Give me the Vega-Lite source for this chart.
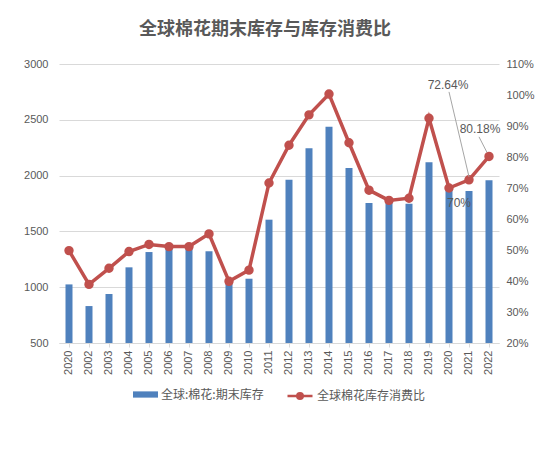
{
  "$schema": "https://vega.github.io/schema/vega-lite/v6.json",
  "width": 440,
  "height": 279,
  "autosize": {"type": "none"},
  "padding": {"left": 59, "top": 64, "right": 55, "bottom": 116},
  "background": "white",
  "config": {
    "view": {"stroke": null},
    "font": "Noto Sans CJK SC",
    "axis": {"labelColor": "#595959", "labelFont": "Liberation Sans", "labelFontSize": 11, "title": null},
    "legend": {"orient": "bottom", "direction": "horizontal", "labelColor": "#595959", "labelFont": "Noto Sans CJK SC", "labelFontSize": 12, "offset": 7, "columnPadding": 20, "layout": {"bottom": {"anchor": "middle", "direction": "horizontal", "margin": 22}}}
  },
  "title": {"text": "全球棉花期末库存与库存消费比", "fontSize": 18, "color": "#595959", "font": "Noto Sans CJK SC", "fontWeight": "bold", "offset": 19, "dx": -14},
  "data": {
    "values": [
      {"year": "2020a", "stock": 1025, "ratio": 0.498},
      {"year": "2002", "stock": 831, "ratio": 0.389},
      {"year": "2003", "stock": 939, "ratio": 0.441},
      {"year": "2004", "stock": 1178, "ratio": 0.495},
      {"year": "2005", "stock": 1315, "ratio": 0.518},
      {"year": "2006", "stock": 1355, "ratio": 0.511},
      {"year": "2007", "stock": 1360, "ratio": 0.511},
      {"year": "2008", "stock": 1322, "ratio": 0.552},
      {"year": "2009", "stock": 1035, "ratio": 0.399},
      {"year": "2010", "stock": 1076, "ratio": 0.435},
      {"year": "2011", "stock": 1605, "ratio": 0.716},
      {"year": "2012", "stock": 1963, "ratio": 0.838},
      {"year": "2013", "stock": 2244, "ratio": 0.936},
      {"year": "2014", "stock": 2438, "ratio": 1.003},
      {"year": "2015", "stock": 2068, "ratio": 0.846},
      {"year": "2016", "stock": 1754, "ratio": 0.693},
      {"year": "2017", "stock": 1768, "ratio": 0.66},
      {"year": "2018", "stock": 1748, "ratio": 0.667},
      {"year": "2019", "stock": 2119, "ratio": 0.925},
      {"year": "2020", "stock": 1900, "ratio": 0.70},
      {"year": "2021", "stock": 1862, "ratio": 0.7264},
      {"year": "2022", "stock": 1958, "ratio": 0.8018}
    ]
  },
  "encoding": {
    "x": {
      "field": "year", "type": "nominal", "sort": null,
      "axis": {"labelAngle": -90, "labelExpr": "substring(datum.value, 0, 4)", "domainColor": "#d9d9d9", "tickColor": "#d9d9d9", "tickSize": 4, "labelPadding": 3, "labelBaseline": "middle"}
    }
  },
  "layer": [
    {
      "mark": {"type": "bar", "width": 7, "color": "#4f81bd"},
      "encoding": {
        "y": {
          "field": "stock", "type": "quantitative",
          "scale": {"domain": [500, 3000], "nice": false, "zero": false},
          "axis": {"values": [500, 1000, 1500, 2000, 2500, 3000], "format": "d", "grid": true, "gridColor": "#d9d9d9", "domain": false, "ticks": false, "labelPadding": 11}
        },
        "y2": {"datum": 500},
        "color": {
          "datum": "全球:棉花:期末库存",
          "scale": {"range": ["#4f81bd"]},
          "legend": {"title": null, "symbolType": "M-1,-0.25L1,-0.25L1,0.25L-1,0.25Z", "symbolSize": 625, "symbolStrokeWidth": 0, "labelOffset": 3}
        }
      }
    },
    {
      "encoding": {
        "y": {
          "field": "ratio", "type": "quantitative",
          "scale": {"domain": [0.2, 1.1], "nice": false, "zero": false},
          "axis": {"orient": "right", "format": ".0%", "values": [0.2, 0.3, 0.4, 0.5, 0.6, 0.7, 0.8, 0.9, 1.0, 1.1], "grid": false, "domain": false, "ticks": false, "labelPadding": 7}
        }
      },
      "layer": [
        {
          "mark": {"type": "line", "color": "#c0504d", "strokeWidth": 3.5, "point": {"filled": true, "size": 55, "color": "#c0504d"}},
          "encoding": {
            "stroke": {
              "datum": "全球棉花库存消费比",
              "scale": {"range": ["#c0504d"]},
              "legend": {"title": null, "symbolType": "M-1,0L1,0M-0.22,0A0.22,0.22,0,1,1,0.22,0A0.22,0.22,0,1,1,-0.22,0Z", "symbolSize": 625, "symbolStrokeWidth": 2.5, "symbolFillColor": "#c0504d", "labelOffset": 3}
            }
          }
        },
        {
          "transform": [{"filter": "datum.year == '2020'"}],
          "mark": {"type": "text", "color": "#595959", "fontSize": 12, "font": "Liberation Sans", "dx": 10, "dy": 15},
          "encoding": {"text": {"field": "ratio", "format": ".2~%"}}
        },
        {
          "transform": [{"filter": "datum.year == '2021'"}],
          "mark": {"type": "text", "color": "#595959", "fontSize": 12, "font": "Liberation Sans", "dx": -21, "dy": -95},
          "encoding": {"text": {"field": "ratio", "format": ".2~%"}}
        },
        {
          "transform": [{"filter": "datum.year == '2022'"}],
          "mark": {"type": "text", "color": "#595959", "fontSize": 12, "font": "Liberation Sans", "dx": -9, "dy": -27},
          "encoding": {"text": {"field": "ratio", "format": ".2~%"}}
        },
        {
          "transform": [{"filter": "datum.year == '2021'"}],
          "mark": {"type": "rule", "color": "#a6a6a6", "strokeWidth": 1, "yOffset": -3},
          "encoding": {"x2": {"datum": "2020"}, "y2": {"datum": 1.01}}
        },
        {
          "transform": [{"filter": "datum.year == '2022'"}],
          "mark": {"type": "rule", "color": "#a6a6a6", "strokeWidth": 1, "xOffset": -2, "yOffset": -4, "x2Offset": -10},
          "encoding": {"x2": {"field": "year"}, "y2": {"datum": 0.865}}
        }
      ]
    }
  ],
  "resolve": {"scale": {"y": "independent"}}
}
